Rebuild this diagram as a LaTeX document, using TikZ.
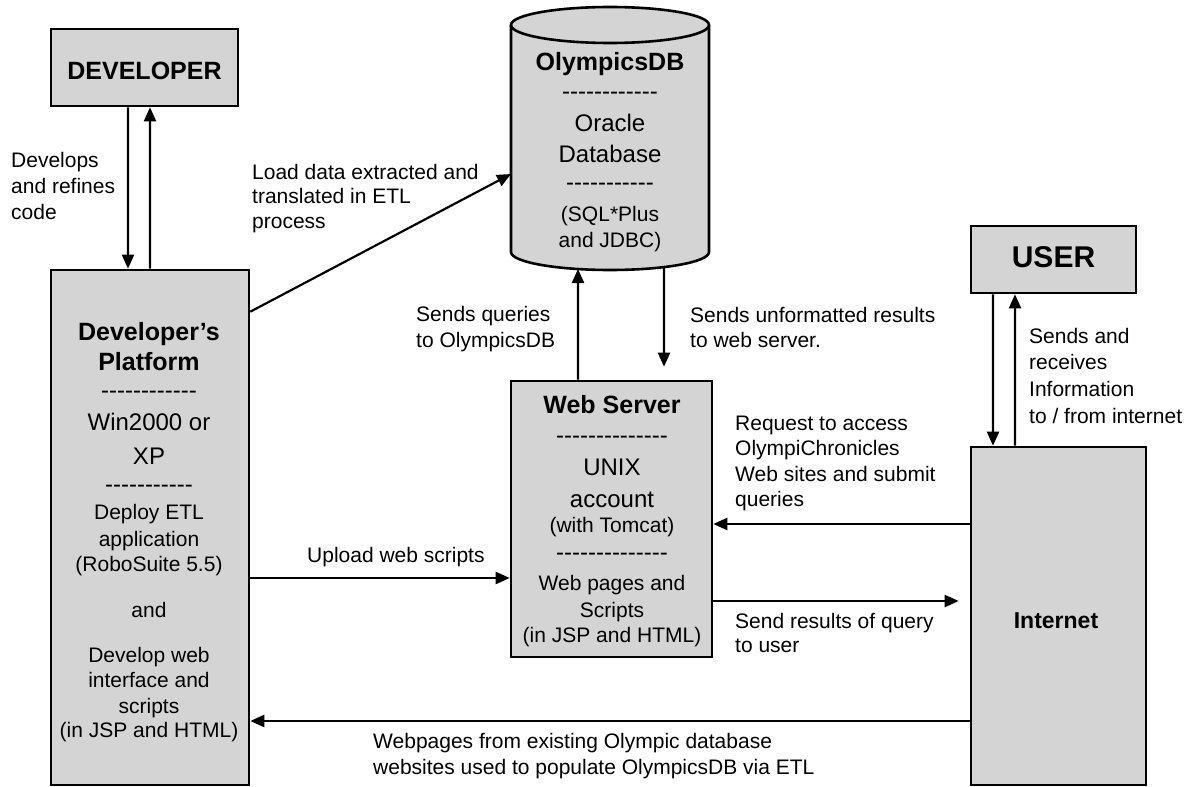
\documentclass[tikz,border=0pt]{standalone}
\usepackage{fontspec}
\setmainfont{Liberation Sans}
\usetikzlibrary{arrows.meta,calc}
\definecolor{boxfill}{RGB}{212,212,212}
% a row of separate hyphens (kept apart so no dash ligature forms)
\newcommand\dashrow[1]{\foreach\k in {1,...,#1}{\mbox{-}}}

\begin{document}
\begin{tikzpicture}[x=1bp,y=-1bp,
  box/.style={draw, line width=2.6bp, fill=boxfill, inner sep=0pt},
  arr/.style={line width=2.2bp, -{Triangle[length=14bp,width=12bp]}},
  sm/.style={font=\fontsize{21bp}{25bp}\selectfont, inner sep=0pt},
  bg/.style={font=\fontsize{24bp}{28bp}\selectfont, inner sep=0pt},
  hd/.style={font=\bfseries\fontsize{25bp}{29bp}\selectfont, inner sep=0pt},
]
\useasboundingbox (0,0) rectangle (1193,787);
\fill[white] (0,0) rectangle (1193,787);

% ---------- boxes ----------
\node[box, minimum width=187bp, minimum height=77bp] (developer) at (144.5,67.5) {};
\node[hd, anchor=base] (developer-txt) at (144.5,80) {DEVELOPER};

\node[box, minimum width=198bp, minimum height=515bp] (platform) at (150,527.5) {};
\node[box, minimum width=201bp, minimum height=276bp] (web) at (611.5,519) {};
\node[box, minimum width=165bp, minimum height=67bp] (user) at (1053.5,259.5) {};
\node[font=\bfseries\fontsize{30bp}{34bp}\selectfont, inner sep=0pt, anchor=base] (user-txt) at (1053.5,267) {USER};
\node[box, minimum width=175bp, minimum height=338bp] (internet) at (1058.5,616) {};
\node[font=\bfseries\fontsize{23bp}{27bp}\selectfont, inner sep=0pt, anchor=base] (internet-txt) at (1056,628) {Internet};

% ---------- database cylinder ----------
\filldraw[fill=boxfill, line width=2.6bp]
  (511,25) -- (511,252)
  arc[start angle=180, end angle=360, x radius=99bp, y radius=18bp]
  -- (709,25)
  arc[start angle=0, end angle=180, x radius=99bp, y radius=18bp] -- cycle;
\draw[line width=2.6bp] (511,25) arc[start angle=180, end angle=360, x radius=99bp, y radius=18bp];
\coordinate (db-load) at (511,174);
\coordinate (db-q) at (578,269);
\coordinate (db-r) at (664,267);

% ---------- text inside the boxes ----------
\foreach \y/\s/\t [count=\i] in {
  340/hd/Developer’s, 370/hd/Platform, 398/bg/\dashrow{12},
  430/bg/Win2000 or, 464/bg/XP, 492/bg/\dashrow{11},
  519/sm/Deploy ETL, 546/sm/application, 571/sm/(RoboSuite 5.5),
  617/sm/and, 662/sm/Develop web, 687/sm/interface and,
  713/sm/scripts, 737/sm/(in JSP and HTML)}
  \node[\s, anchor=base] (platform-\i) at (149,\y) {\t};

\foreach \y/\s/\t [count=\i] in {
  71/hd/OlympicsDB, 100/bg/\dashrow{12}, 131/bg/Oracle, 162/bg/Database,
  190/bg/\dashrow{11}, 221/sm/(SQL*Plus, 247/sm/and JDBC)}
  \node[\s, anchor=base] (db-\i) at (610,\y) {\t};

\foreach \y/\s/\t [count=\i] in {
  413/hd/Web Server, 443/bg/\dashrow{14}, 475/bg/UNIX, 507/bg/account,
  532/sm/(with Tomcat), 560/bg/\dashrow{14}, 590/sm/Web pages and,
  617/sm/Scripts, 642/sm/(in JSP and HTML)}
  \node[\s, anchor=base] (web-\i) at (612,\y) {\t};

% ---------- connectors ----------
\draw[arr] ([xshift=-16.5bp]developer.south) -- ([xshift=-22bp]platform.north);
\draw[arr] ([xshift=0bp]platform.north) -- ([xshift=5.5bp]developer.south);

\draw[arr] ([yshift=-43bp]platform.north east) -- (db-load);

\draw[arr] ([xshift=-33.5bp]web.north) -- (db-q);
\draw[arr, shorten >=13bp] (db-r) -- ([xshift=52.5bp]web.north);

\draw[arr] ([xshift=-60.5bp]user.south) -- ([xshift=-65.5bp]internet.north);
\draw[arr] ([xshift=-43.5bp]internet.north) -- ([xshift=-38.5bp]user.south);

\coordinate (rq) at ([yshift=92bp]internet.west);
\draw[arr] (rq) -- (rq -| web.east);

\coordinate (sr) at ([yshift=-82bp]web.east);
\draw[arr, shorten >=11bp] (sr) -- (sr -| internet.west);

\coordinate (up) at ([yshift=-50.5bp]platform.east);
\draw[arr] (up) -- (up -| web.west);

\coordinate (wp) at ([yshift=-105bp]internet.west);
\draw[arr] (wp) -- (wp -| platform.east);

% ---------- connector labels ----------
\foreach \t [count=\i] in {Develops, and refines, code}
  \node[sm, anchor=base west] (lbl-dev-\i) at (11,{167+26*(\i-1)}) {\t};
\foreach \t [count=\i] in {Load data extracted and, translated in ETL, process}
  \node[sm, anchor=base west] (lbl-load-\i) at (252,{179+24.5*(\i-1)}) {\t};
\foreach \t [count=\i] in {Sends queries, to OlympicsDB}
  \node[sm, anchor=base west] (lbl-q-\i) at (416,{321+26*(\i-1)}) {\t};
\foreach \t [count=\i] in {Sends unformatted results, to web server.}
  \node[sm, anchor=base west] (lbl-r-\i) at (690,{322+25*(\i-1)}) {\t};
\foreach \t [count=\i] in {Request to access, OlympiChronicles, Web sites and submit, queries}
  \node[sm, anchor=base west] (lbl-req-\i) at (735,{430+25.5*(\i-1)}) {\t};
\foreach \t [count=\i] in {Sends and, receives, Information, {to / from internet}}
  \node[sm, anchor=base west] (lbl-user-\i) at (1029,{343+26.7*(\i-1)}) {\t};
\node[sm, anchor=base west] (lbl-upload) at (307,562) {Upload web scripts};
\foreach \t [count=\i] in {Send results of query, to user}
  \node[sm, anchor=base west] (lbl-send-\i) at (735,{628+24*(\i-1)}) {\t};
\foreach \t [count=\i] in {Webpages from existing Olympic database, websites used to populate OlympicsDB via ETL}
  \node[sm, anchor=base west] (lbl-wp-\i) at (373,{748+26*(\i-1)}) {\t};
\end{tikzpicture}
\end{document}
